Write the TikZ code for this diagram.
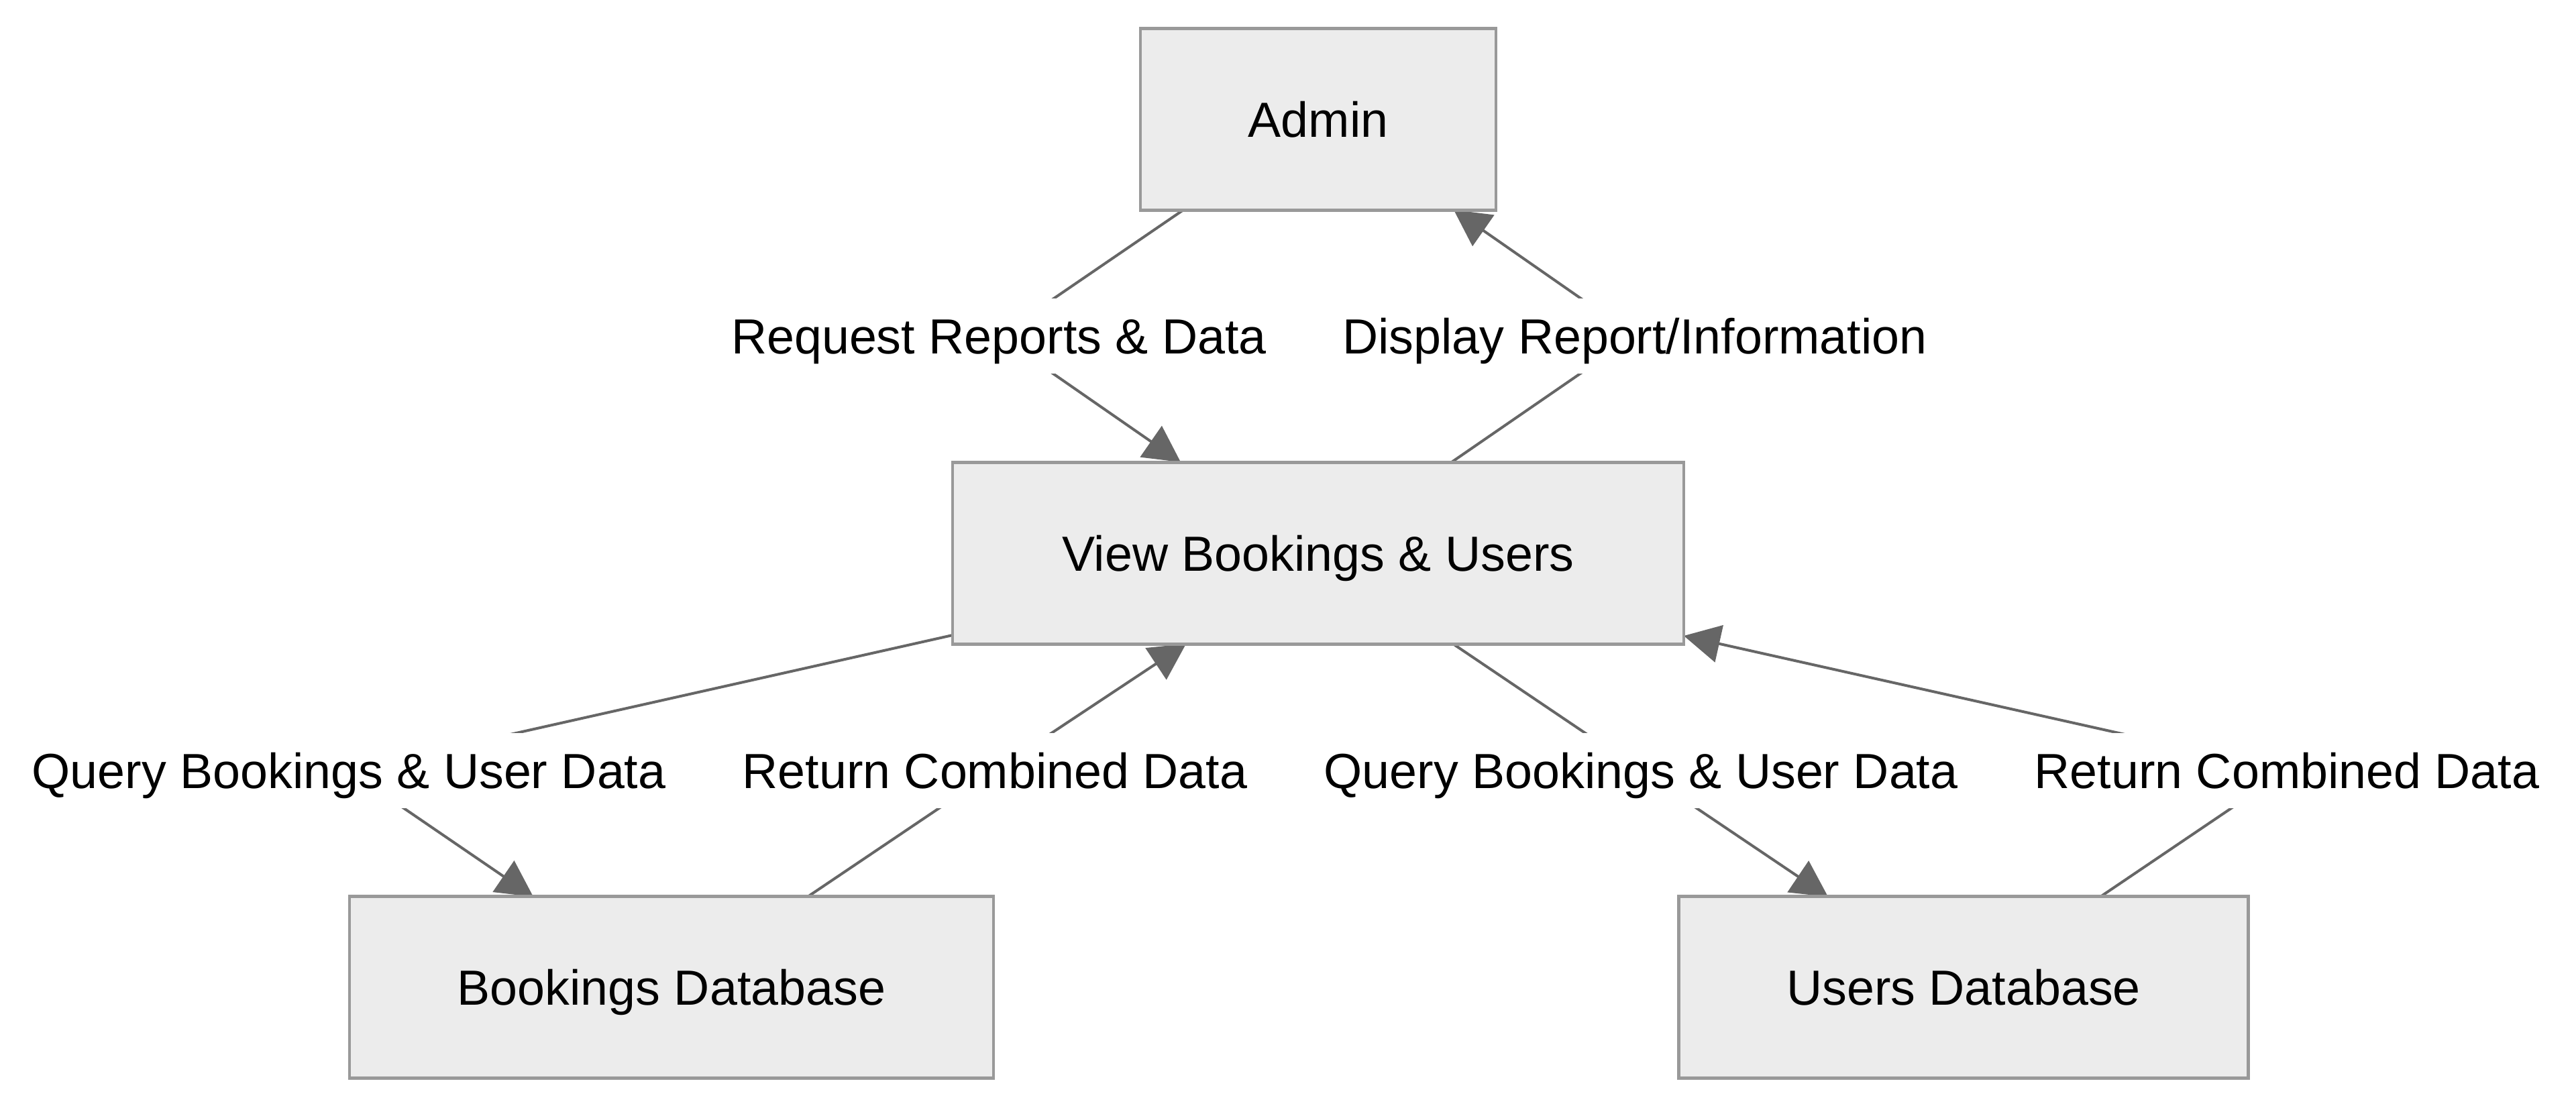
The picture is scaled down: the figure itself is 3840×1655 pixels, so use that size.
\documentclass[tikz,border=0pt]{standalone}
\usepackage{fontspec}
\setmainfont{Liberation Sans}
\usetikzlibrary{arrows.meta}
\pgfdeclarelayer{bg}
\pgfsetlayers{bg,main}
\definecolor{boxfill}{HTML}{ECECEC}
\definecolor{boxline}{HTML}{999999}
\definecolor{edgecol}{HTML}{666666}
\tikzset{
  txt/.style={font=\fontsize{18.4}{22}\selectfont, text height=13.2pt, text depth=0pt},
  box/.style={txt, draw=boxline, fill=boxfill, line width=1.2pt, inner sep=0pt, minimum height=67.6pt},
  lbl/.style={txt, fill=white, inner xsep=1pt, inner ysep=0pt, minimum height=28pt},
  edge/.style={draw=edgecol, line width=1pt, -{Triangle[length=13.5pt,width=14pt]}}
}
\begin{document}
\begin{tikzpicture}[x=0.25pt,y=-0.25pt]
\useasboundingbox (0,0) rectangle (3840,1655);
% nodes
\node[box, minimum width=132.5pt] (admin) at (1965,178) {Admin};
\node[box, minimum width=272.5pt] (view) at (1965,825) {View Bookings \& Users};
\node[box, minimum width=240pt] (bdb) at (1001,1472) {Bookings Database};
\node[box, minimum width=212.25pt] (udb) at (2927,1472) {Users Database};
% labels
\node[lbl] (l1) at (1489,501) {Request Reports \& Data};
\node[lbl] (l2) at (2437,501) {Display Report/Information};
\node[lbl] (l3) at (520,1149) {Query Bookings \& User Data};
\node[lbl] (l4) at (1483,1149) {Return Combined Data};
\node[lbl] (l5) at (2446,1149) {Query Bookings \& User Data};
\node[lbl] (l6) at (3409,1149) {Return Combined Data};
% edge end points
\coordinate (e1s) at (1764,313);
\coordinate (e1t) at (1760,689);
\coordinate (e2s) at (2164,689);
\coordinate (e2t) at (2167,313);
\coordinate (e3s) at (1420,947);
\coordinate (e3t) at (795,1337);
\coordinate (e4s) at (1204,1337);
\coordinate (e4t) at (1768,960);
\coordinate (e5s) at (2166,960);
\coordinate (e5t) at (2725,1337);
\coordinate (e6s) at (3131,1337);
\coordinate (e6t) at (2510,948);
\begin{pgfonlayer}{bg}
\draw[edge] (e1s) -- (l1.center) -- (e1t);
\draw[edge] (e2s) -- (l2.center) -- (e2t);
\draw[edge] (e3s) -- (l3.center) -- (e3t);
\draw[edge] (e4s) -- (l4.center) -- (e4t);
\draw[edge] (e5s) -- (l5.center) -- (e5t);
\draw[edge] (e6s) -- (l6.center) -- (e6t);
\end{pgfonlayer}
\end{tikzpicture}
\end{document}
